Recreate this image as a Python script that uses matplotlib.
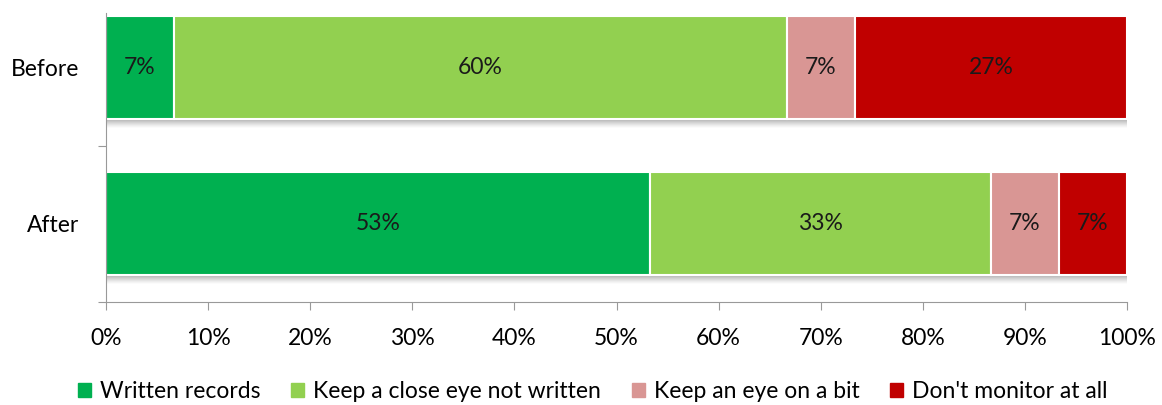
import matplotlib.pyplot as plt
from matplotlib.patches import Rectangle

categories = ["Before", "After"]
series_names = ["Written records", "Keep a close eye not written",
                "Keep an eye on a bit", "Don't monitor at all"]
# shares in percent, per category (Before, After)
written = [6.67, 53.33]
close_eye = [60.0, 33.33]
eye_bit = [6.67, 6.67]
no_monitor = [26.67, 6.67]
labels = [["7%", "53%"], ["60%", "33%"], ["7%", "7%"], ["27%", "7%"]]
xtick_labels = ["0%", "10%", "20%", "30%", "40%", "50%", "60%", "70%", "80%", "90%", "100%"]

colors = ["#00B050", "#92D050", "#D99694", "#C00000"]
series = [written, close_eye, eye_bit, no_monitor]

plt.rcParams['font.family'] = ['Lato', 'DejaVu Sans']
fs = 16.5
fig = plt.figure(figsize=(11.62, 4.05), dpi=100)
ax = fig.add_axes([106 / 1162, 1 - 302 / 405, (1127 - 106) / 1162, (302 - 13) / 405])

ypos = [1, 0]
height = 0.656

# soft drop shadow under each bar
for y in ypos:
    for k in range(9):
        ax.add_patch(Rectangle((0, y - height / 2 - (k + 1) * 0.0065), 100, 0.0065,
                               facecolor="black", alpha=0.3 * (1 - k / 9) ** 1.3,
                               edgecolor="none", zorder=1))

left = [0, 0]
for vals, col, lab in zip(series, colors, labels):
    bars = ax.barh(ypos, vals, left=left, height=height, color=col,
                   edgecolor="white", linewidth=1.5, zorder=2)
    for b, t in zip(bars, lab):
        ax.text(b.get_x() + b.get_width() / 2, b.get_y() + b.get_height() / 2, t,
                ha="center", va="center", fontsize=fs, color="#1a1a1a", zorder=3)
    left = [l + v for l, v in zip(left, vals)]

ax.set_xlim(0, 100)
ax.set_ylim(-0.5, 1 + (67.5 - 13) / 157)
ax.set_xticks(range(0, 101, 10))
ax.set_xticklabels(xtick_labels, fontsize=fs)
ax.set_yticks([-0.5, 0.5], minor=False)
ax.set_yticklabels([])
ax.set_yticks(ypos, minor=True)
ax.set_yticklabels(categories, minor=True, fontsize=fs)
ax.tick_params(axis="y", which="minor", length=0, pad=19)
ax.tick_params(axis="y", which="major", length=6, color="#999999", direction="out")
ax.tick_params(axis="x", length=6, color="#999999", pad=13)
for s in ["top", "right"]:
    ax.spines[s].set_visible(False)
for s in ["left", "bottom"]:
    ax.spines[s].set_color("#999999")

handles = [Rectangle((0, 0), 1, 1, color=c) for c in colors]
fig.legend(handles, series_names, loc="center", bbox_to_anchor=(593 / 1162, 1 - 392 / 405),
           ncol=4, frameon=False, fontsize=fs, handlelength=0.55, handleheight=0.55,
           handletextpad=0.4, columnspacing=1.35)

fig.savefig("out.png", dpi=100)
